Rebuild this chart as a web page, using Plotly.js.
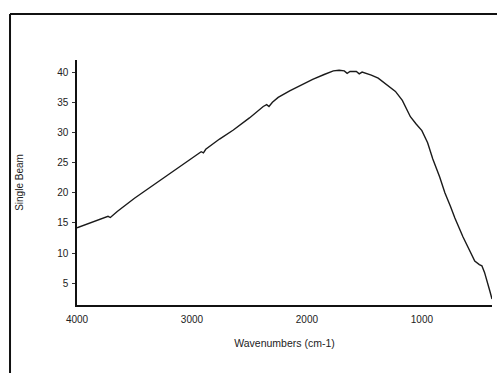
<!DOCTYPE html>
<html>
<head>
<meta charset="utf-8">
<script src="https://cdn.plot.ly/plotly-3.0.1.min.js"></script>
<style>html,body{margin:0;padding:0;background:#fff;}#chart{width:497px;height:373px;}</style>
</head>
<body>
<div id="chart"></div>
<script>
const wavenumbers = [4000,3900,3800,3760,3730,3710,3650,3500,3350,3200,3050,2960,2920,2900,2880,2760,2640,2500,2380,2350,2330,2300,2250,2150,2050,1950,1850,1770,1720,1675,1650,1625,1570,1545,1520,1480,1440,1380,1300,1230,1170,1130,1100,1050,1000,950,905,845,800,750,713,643,583,540,500,478,455,430,410,390];
const singleBeam = [14.2,14.9,15.6,16.0,16.1,15.9,16.9,19.1,21.1,23.0,25.1,26.3,26.8,26.6,27.2,28.9,30.4,32.4,34.3,34.6,34.3,35.0,35.8,36.9,37.9,38.8,39.6,40.2,40.3,40.2,39.8,40.1,40.1,39.7,40.0,39.8,39.5,39.0,37.9,36.8,35.3,33.9,32.6,31.4,30.3,28.3,25.6,22.6,20.0,17.7,15.8,12.7,10.5,8.7,8.1,7.9,6.8,4.9,3.8,2.4];
const xTicks = [4000,3000,2000,1000];
const xTickText = ['4000','3000','2000','1000'];
const yTicks = [5,10,15,20,25,30,35,40];
const yTickText = ['5','10','15','20','25','30','35','40'];

const trace = {
  x: wavenumbers, y: singleBeam, type: 'scatter', mode: 'lines',
  line: {color: '#1a1a1a', width: 1.4}, hoverinfo: 'skip'
};

const layout = {
  width: 497, height: 373,
  margin: {l: 77, r: 5, t: 60, b: 68},
  paper_bgcolor: '#ffffff', plot_bgcolor: '#ffffff',
  showlegend: false,
  font: {family: 'Liberation Sans, Arial, sans-serif', color: '#222', size: 10},
  xaxis: {
    range: [4000, 390], tickvals: xTicks, ticktext: xTickText,
    showline: true, linecolor: '#111', linewidth: 1.6, mirror: false,
    ticks: '', showgrid: false, zeroline: false, ticklabelstandoff: 4,
    tickfont: {size: 10, color: '#222'},
    title: {text: 'Wavenumbers (cm-1)', font: {size: 10.5, color: '#222'}, standoff: 16},
    automargin: false
  },
  yaxis: {
    range: [1.4, 42], tickvals: yTicks, ticktext: yTickText,
    showline: true, linecolor: '#111', linewidth: 1.6,
    ticks: 'outside', ticklen: 3, tickwidth: 1, tickcolor: '#333',
    showgrid: false, zeroline: false, ticklabelstandoff: 2,
    tickfont: {size: 10, color: '#222'},
    title: {text: 'Single Beam', font: {size: 10, color: '#222'}, standoff: 32},
    automargin: false
  },
  shapes: [
    {type: 'line', xref: 'paper', yref: 'paper', x0: -0.1614, x1: 1.03, y0: 1.188, y1: 1.188, line: {color: '#111', width: 2}},
    {type: 'line', xref: 'paper', yref: 'paper', x0: -0.1614, x1: -0.1614, y0: 1.188, y1: -0.3, line: {color: '#111', width: 2}}
  ]
};

Plotly.newPlot('chart', [trace], layout, {displayModeBar: false, staticPlot: true});
</script>
</body>
</html>
